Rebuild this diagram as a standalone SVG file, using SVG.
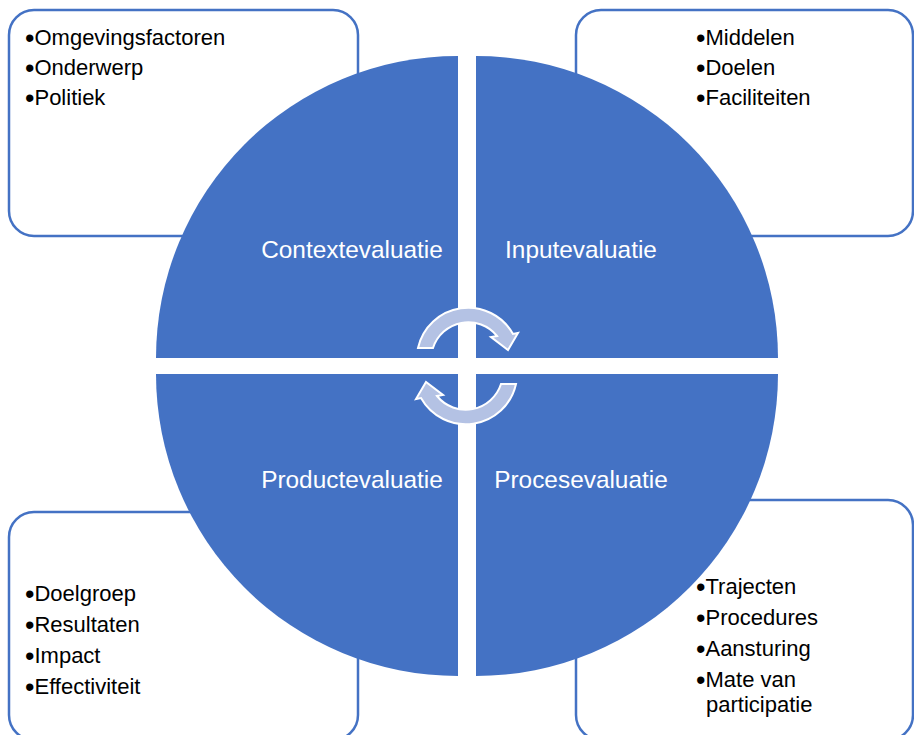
<svg xmlns="http://www.w3.org/2000/svg" width="914" height="735" viewBox="0 0 914 735">
  <style>
    .box { fill: #FFFFFF; stroke: #4472C4; stroke-width: 2.5; }
    .quad { fill: #4472C4; }
    .item { font-family: "Liberation Sans", Arial, sans-serif; font-size: 22px; fill: #000000; }
    .b { font-size: 27px; }
    .label { font-family: "Liberation Sans", Arial, sans-serif; font-size: 24.4px; fill: #FFFFFF; text-anchor: middle; }
    .arrow { fill: #B4C2E4; stroke: #FFFFFF; stroke-width: 2; stroke-linejoin: miter; }
  </style>
  <defs>
    <path id="cyc" d="M 418 348 A 51.4 51.4 0 0 1 513 334 L 518 333 L 508 350 L 491 337 L 497 336 A 37 37 0 0 0 433 348 Z"/>
  </defs>
  <rect width="914" height="735" fill="#FFFFFF"/>

  <g id="box-context">
    <rect class="box" x="9" y="10" width="349" height="226" rx="25" ry="25"/>
    <text class="item" x="25" y="45"><tspan class="b" dy="2">•</tspan><tspan dy="-2">Omgevingsfactoren</tspan></text>
    <text class="item" x="25" y="75"><tspan class="b" dy="2">•</tspan><tspan dy="-2">Onderwerp</tspan></text>
    <text class="item" x="25" y="105"><tspan class="b" dy="2">•</tspan><tspan dy="-2">Politiek</tspan></text>
  </g>
  <g id="box-input">
    <rect class="box" x="576" y="10" width="337" height="226" rx="25" ry="25"/>
    <text class="item" x="696" y="45"><tspan class="b" dy="2">•</tspan><tspan dy="-2">Middelen</tspan></text>
    <text class="item" x="696" y="75"><tspan class="b" dy="2">•</tspan><tspan dy="-2">Doelen</tspan></text>
    <text class="item" x="696" y="105"><tspan class="b" dy="2">•</tspan><tspan dy="-2">Faciliteiten</tspan></text>
  </g>
  <g id="box-product">
    <rect class="box" x="9" y="512" width="349" height="228" rx="25" ry="25"/>
    <text class="item" x="25" y="601"><tspan class="b" dy="2">•</tspan><tspan dy="-2">Doelgroep</tspan></text>
    <text class="item" x="25" y="632"><tspan class="b" dy="2">•</tspan><tspan dy="-2">Resultaten</tspan></text>
    <text class="item" x="25" y="663"><tspan class="b" dy="2">•</tspan><tspan dy="-2">Impact</tspan></text>
    <text class="item" x="25" y="694"><tspan class="b" dy="2">•</tspan><tspan dy="-2">Effectiviteit</tspan></text>
  </g>
  <g id="box-proces">
    <rect class="box" x="576" y="500" width="337" height="240" rx="25" ry="25"/>
    <text class="item" x="696" y="594"><tspan class="b" dy="2">•</tspan><tspan dy="-2">Trajecten</tspan></text>
    <text class="item" x="696" y="625"><tspan class="b" dy="2">•</tspan><tspan dy="-2">Procedures</tspan></text>
    <text class="item" x="696" y="656"><tspan class="b" dy="2">•</tspan><tspan dy="-2">Aansturing</tspan></text>
    <text class="item" x="696" y="687"><tspan class="b" dy="2">•</tspan><tspan dy="-2">Mate van</tspan></text>
    <text class="item" x="706" y="712">participatie</text>
  </g>

  <g id="quad-context">
    <path class="quad" d="M 458 358 L 156 358 A 302 302 0 0 1 458 56 Z"/>
    <text class="label" x="352" y="258">Contextevaluatie</text>
  </g>
  <g id="quad-input">
    <path class="quad" d="M 476 358 L 476 56 A 302 302 0 0 1 778 358 Z"/>
    <text class="label" x="581" y="258">Inputevaluatie</text>
  </g>
  <g id="quad-product">
    <path class="quad" d="M 458 374 L 458 676 A 302 302 0 0 1 156 374 Z"/>
    <text class="label" x="352" y="488">Productevaluatie</text>
  </g>
  <g id="quad-proces">
    <path class="quad" d="M 476 374 L 778 374 A 302 302 0 0 1 476 676 Z"/>
    <text class="label" x="581" y="488">Procesevaluatie</text>
  </g>

  <g id="connectors">
    <use href="#cyc" class="arrow"/>
    <use href="#cyc" class="arrow" transform="rotate(180 467 366)"/>
  </g>
</svg>
